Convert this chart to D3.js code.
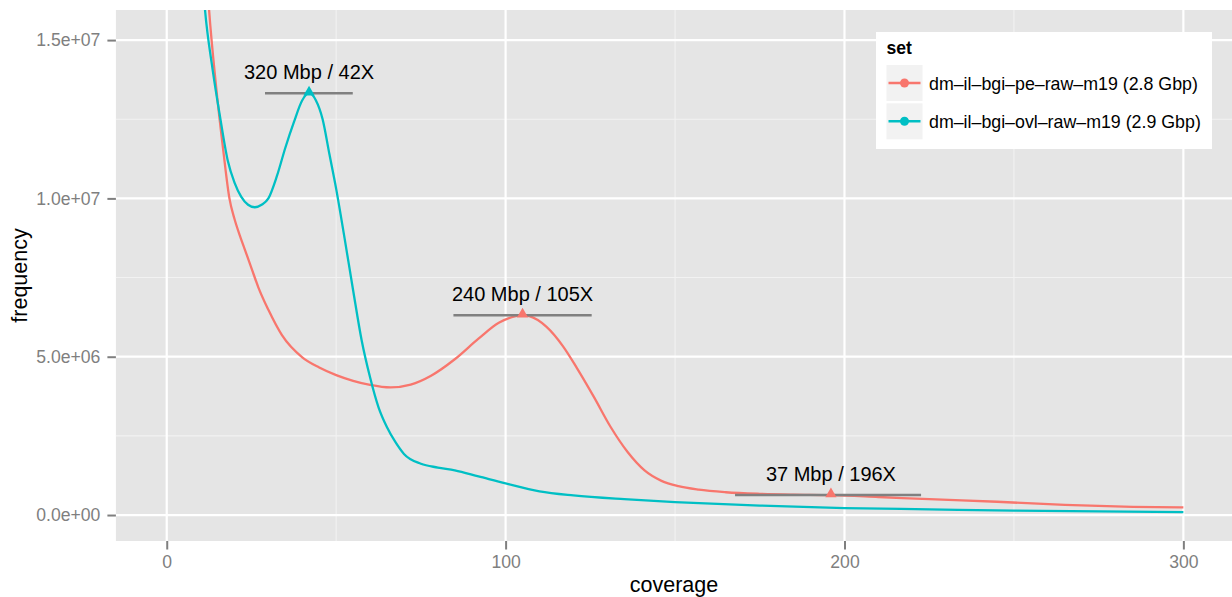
<!DOCTYPE html>
<html>
<head>
<meta charset="utf-8">
<script src="https://cdn.jsdelivr.net/npm/d3@7"></script>
<style>
  body { margin: 0; background: #fff; }
  text { font-family: Arial, "Liberation Sans", Helvetica, sans-serif; }
</style>
</head>
<body>
<div id="chart"></div>
<script>
// coverage / frequency
const peCoverage = [10, 12.5, 14.5, 16.7, 18.5, 20, 21.5, 23, 25, 27, 30, 34, 40, 45, 50, 55, 60, 66,
  72, 78, 85, 92, 98, 103, 105, 107, 112, 117, 121, 126, 131, 136, 141, 146, 151, 157, 165, 175,
  185, 196, 210, 225, 245, 265, 285, 300];
const peFrequency = [2.05e7, 1.595e7, 1.36e7, 1.15e7, 1.0e7, 9.35e6, 8.85e6, 8.4e6, 7.8e6, 7.2e6,
  6.48e6, 5.68e6, 4.98e6, 4.66e6, 4.42e6, 4.24e6, 4.11e6, 4.03e6,
  4.12e6, 4.4e6, 4.92e6, 5.57e6, 6.07e6, 6.28e6, 6.31e6, 6.28e6, 5.95e6, 5.32e6, 4.65e6,
  3.74e6, 2.78e6, 1.99e6, 1.41e6, 1.08e6, 9.1e5, 8.0e5, 7.2e5, 6.7e5,
  6.45e5, 6.3e5, 5.7e5, 5.0e5, 4.2e5, 3.2e5, 2.6e5, 2.4e5];

const ovlCoverage = [10, 11.3, 13.5, 15.7, 18, 20, 22, 24, 26, 28, 30, 32.5, 35, 37.5, 40, 42, 44,
  46, 48, 50, 52.5, 55, 57.5, 60, 62.5, 65, 67.5, 70, 75, 80, 85, 92, 100, 110, 120, 135, 150,
  175, 200, 225, 250, 275, 300];
const ovlFrequency = [1.78e7, 1.595e7, 1.41e7, 1.26e7, 1.12e7, 1.05e7, 1.005e7, 9.8e6, 9.72e6,
  9.8e6, 1.0e7, 1.07e7, 1.16e7, 1.24e7, 1.31e7, 1.333e7, 1.31e7,
  1.25e7, 1.14e7, 1.03e7, 8.73e6, 7.1e6, 5.53e6, 4.35e6, 3.4e6, 2.77e6, 2.3e6, 1.93e6, 1.62e6,
  1.5e6, 1.41e6, 1.22e6, 1.0e6, 7.5e5, 6.2e5, 5.0e5, 4.1e5,
  3.0e5, 2.2e5, 1.8e5, 1.4e5, 1.15e5, 9.5e4];

const seriesNames = ['dm\u2013il\u2013bgi\u2013pe\u2013raw\u2013m19 (2.8 Gbp)', 'dm\u2013il\u2013bgi\u2013ovl\u2013raw\u2013m19 (2.9 Gbp)'];
const seriesColors = ['#F8766D', '#00BFC4'];

// peak annotations
const peakLabels = ['320 Mbp / 42X', '240 Mbp / 105X', '37 Mbp / 196X'];
const peakCoverage = [42, 105, 196];
const peakFrequency = [1.332e7, 6.31e6, 6.32e5];
const peakFrom = [29, 84.6, 167.7];
const peakTo = [54.9, 125.4, 222.6];
const peakSeries = [1, 0, 0];

const xTicks = [0, 100, 200, 300];
const xMinor = [50, 150, 250];
const yTicks = [0, 5e6, 1e7, 1.5e7];
const yTickLabels = ['0.0e+00', '5.0e+06', '1.0e+07', '1.5e+07'];
const yMinor = [2.5e6, 7.5e6, 1.25e7];

const width = 1232;
const height = 597;
const panel = { left: 115.9, right: 1234.2, top: 10, bottom: 541 };

const svg = d3.select('#chart').append('svg')
  .attr('width', width)
  .attr('height', height);

const x = d3.scaleLinear().domain([-15, 315]).range([panel.left, panel.right]);
const y = d3.scaleLinear().domain([-0.82e6, 1.595e7]).range([panel.bottom, panel.top]);

svg.append('defs').append('clipPath').attr('id', 'clip')
  .append('rect')
  .attr('x', panel.left).attr('y', panel.top)
  .attr('width', panel.right - panel.left).attr('height', panel.bottom - panel.top);

svg.append('rect')
  .attr('x', panel.left).attr('y', panel.top)
  .attr('width', panel.right - panel.left).attr('height', panel.bottom - panel.top)
  .attr('fill', '#E5E5E5');

const grid = svg.append('g');
grid.selectAll('.xminor').data(xMinor).enter().append('line')
  .attr('x1', (d) => x(d)).attr('x2', (d) => x(d))
  .attr('y1', panel.top).attr('y2', panel.bottom)
  .attr('stroke', '#F2F2F2').attr('stroke-width', 1.1);
grid.selectAll('.yminor').data(yMinor).enter().append('line')
  .attr('y1', (d) => y(d)).attr('y2', (d) => y(d))
  .attr('x1', panel.left).attr('x2', panel.right)
  .attr('stroke', '#F2F2F2').attr('stroke-width', 1.1);
grid.selectAll('.xmajor').data(xTicks).enter().append('line')
  .attr('x1', (d) => x(d)).attr('x2', (d) => x(d))
  .attr('y1', panel.top).attr('y2', panel.bottom)
  .attr('stroke', '#fff').attr('stroke-width', 2.2);
grid.selectAll('.ymajor').data(yTicks).enter().append('line')
  .attr('y1', (d) => y(d)).attr('y2', (d) => y(d))
  .attr('x1', panel.left).attr('x2', panel.right)
  .attr('stroke', '#fff').attr('stroke-width', 2.2);

// axes
const xAxis = svg.append('g')
  .attr('transform', `translate(0,${panel.bottom})`)
  .call(d3.axisBottom(x).tickValues(xTicks).tickSize(8.5).tickPadding(6));
const yAxis = svg.append('g')
  .attr('transform', `translate(${panel.left},0)`)
  .call(d3.axisLeft(y).tickValues(yTicks).tickFormat((d, i) => yTickLabels[i]).tickSize(8.5).tickPadding(7));
[xAxis, yAxis].forEach((a) => {
  a.select('.domain').remove();
  a.selectAll('line').attr('stroke', '#7F7F7F').attr('stroke-width', 2);
  a.selectAll('text').attr('fill', '#7F7F7F').style('font-size', '17.6px')
    .style('font-family', 'Arial, "Liberation Sans", sans-serif');
});

svg.append('text')
  .attr('x', (panel.left + width) / 2).attr('y', 592)
  .attr('text-anchor', 'middle')
  .style('font-size', '21.5px')
  .text('coverage');
svg.append('text')
  .attr('transform', `translate(27,${(panel.top + panel.bottom) / 2}) rotate(-90)`)
  .attr('text-anchor', 'middle')
  .style('font-size', '21.5px')
  .text('frequency');

// curves
const series = [
  peCoverage.map((c, i) => ({ c, f: peFrequency[i] })),
  ovlCoverage.map((c, i) => ({ c, f: ovlFrequency[i] })),
];
const line = d3.line().x((d) => x(d.c)).y((d) => y(d.f)).curve(d3.curveMonotoneX);
const plot = svg.append('g').attr('clip-path', 'url(#clip)');
plot.selectAll('.curve').data(series).enter().append('path')
  .attr('d', line)
  .attr('fill', 'none')
  .attr('stroke', (d, i) => seriesColors[i])
  .attr('stroke-width', 2.3);

// peak markers
plot.selectAll('.seg').data(peakLabels).enter().append('line')
  .attr('x1', (d, i) => x(peakFrom[i])).attr('x2', (d, i) => x(peakTo[i]))
  .attr('y1', (d, i) => y(peakFrequency[i])).attr('y2', (d, i) => y(peakFrequency[i]))
  .attr('stroke', '#808080').attr('stroke-width', 2.4);
plot.selectAll('.tri').data(peakLabels).enter().append('path')
  .attr('d', d3.symbol().type(d3.symbolTriangle).size(55))
  .attr('transform', (d, i) => `translate(${x(peakCoverage[i])},${y(peakFrequency[i]) - 1})`)
  .attr('fill', (d, i) => seriesColors[peakSeries[i]]);
plot.selectAll('.lbl').data(peakLabels).enter().append('text')
  .attr('x', (d, i) => x(peakCoverage[i]))
  .attr('y', (d, i) => y(peakFrequency[i]) - 14)
  .attr('text-anchor', 'middle')
  .style('font-size', '20px')
  .text((d) => d);

// legend
const legend = svg.append('g').attr('transform', 'translate(876,32)');
legend.append('rect')
  .attr('width', 336).attr('height', 117)
  .attr('fill', '#fff');
legend.append('text')
  .attr('x', 10.5).attr('y', 21.5)
  .style('font-size', '17.6px').style('font-weight', 'bold')
  .text('set');
const item = legend.selectAll('.item').data(seriesNames).enter().append('g')
  .attr('transform', (d, i) => `translate(10.5,${33 + i * 38.3})`);
item.append('rect')
  .attr('width', 36).attr('height', 36)
  .attr('fill', '#F2F2F2');
item.append('line')
  .attr('x1', 2).attr('x2', 34).attr('y1', 18).attr('y2', 18)
  .attr('stroke', (d, i) => seriesColors[i]).attr('stroke-width', 2.4);
item.append('circle')
  .attr('cx', 18).attr('cy', 18).attr('r', 4.5)
  .attr('fill', (d, i) => seriesColors[i]);
item.append('text')
  .attr('x', 42.5).attr('y', 24.5)
  .style('font-size', '17.8px')
  .text((d) => d);
</script>
</body>
</html>
